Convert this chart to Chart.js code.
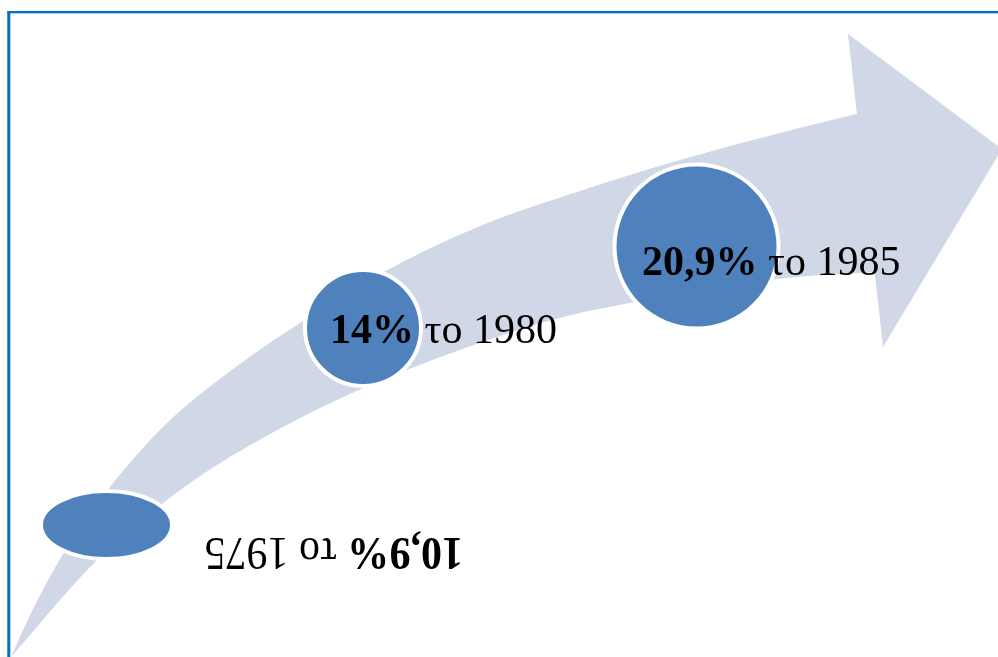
<!DOCTYPE html>
<html>
<head>
<meta charset="utf-8">
<script src="https://cdn.jsdelivr.net/npm/chart.js@4.4.1/dist/chart.umd.min.js"></script>
<style>
  html, body { margin: 0; padding: 0; background: #fff; }
  #wrap { width: 998px; height: 657px; }
</style>
</head>
<body>
<div id="wrap"><canvas id="growth" width="998" height="657"></canvas></div>
<script>
const years = [1975, 1980, 1985];
const shares = [10.9, 14, 20.9];

// marker placement along the arrow (canvas units, y grows downward)
const markerX = [106.5, 363, 696.5];
const markerY = [525, 328, 246.5];
const markerR = [65, 58, 82];
const labelX = [463, 330, 642];
const labelY = [538, 343, 275];
const labelTurn = [180, 0, 0];
const labelStretch = [1.12, 1, 1];

// curved arrow shaft: top and bottom edge, both left->right, then the head
const arrowUpper = [[11, 657], [33, 609], [63, 554], [110, 487], [167, 423], [233, 369], [303, 321],
  [380, 274], [480, 226], [580, 191], [680, 160], [780, 133], [857, 114], [895, 106]];
const arrowLower = [[11, 657], [97, 560], [163, 503], [217, 465], [283, 427], [350, 394], [417, 366],
  [500, 336], [567, 316], [630, 303], [777, 279], [876, 272], [895, 271]];
const arrowHead = [[848, 34], [1002, 149], [883, 347]];

const BAND = '#d0d8e8';
const DOT = '#4f81bd';
const FRAME = '#0070c0';
const FONT = '"Liberation Serif", "Times New Roman", serif';

const pts = (list) => list.map(([x, y]) => ({ x, y }));

function ellipseStyle(rx, ry, bw) {
  const c = document.createElement('canvas');
  c.width = Math.ceil(2 * (rx + bw));
  c.height = Math.ceil(2 * (ry + bw));
  const g = c.getContext('2d');
  g.beginPath();
  g.ellipse(c.width / 2, c.height / 2, rx, ry, 0, 0, Math.PI * 2);
  g.fillStyle = DOT;
  g.fill();
  g.lineWidth = bw;
  g.strokeStyle = '#fff';
  g.stroke();
  return c;
}
const firstDot = ellipseStyle(65.5, 34, 4);

const shareLabels = {
  id: 'shareLabels',
  afterDatasetsDraw(chart) {
    const { ctx, scales: { x, y } } = chart;
    ctx.save();
    ctx.textAlign = 'left';
    ctx.textBaseline = 'alphabetic';
    ctx.fillStyle = '#000';
    years.forEach((yr, i) => {
      const bold = String(shares[i]).replace('.', ',') + '%';
      const rest = ' το ' + yr;
      ctx.save();
      ctx.translate(x.getPixelForValue(labelX[i]), y.getPixelForValue(labelY[i]));
      ctx.rotate(labelTurn[i] * Math.PI / 180);
      ctx.scale(1, labelStretch[i]);
      ctx.font = 'bold 42px ' + FONT;
      ctx.fillText(bold, 0, 0);
      const w = ctx.measureText(bold).width;
      ctx.font = '42px ' + FONT;
      ctx.fillText(rest, w, 0);
      ctx.restore();
    });
    // frame on the left and top
    ctx.fillStyle = FRAME;
    ctx.fillRect(7.3, 11, 3, 646);
    ctx.fillRect(7.3, 11, 991, 2.3);
    ctx.restore();
  }
};

const edge = {
  type: 'line',
  backgroundColor: BAND,
  borderColor: 'rgba(0,0,0,0)',
  borderWidth: 0,
  pointRadius: 0,
  cubicInterpolationMode: 'monotone'
};

new Chart(document.getElementById('growth'), {
  type: 'scatter',
  data: {
    datasets: [
      {
        type: 'bubble',
        data: years.map((yr, i) => ({ x: markerX[i], y: markerY[i], r: markerR[i] })),
        backgroundColor: DOT,
        borderColor: '#fff',
        borderWidth: 4,
        pointStyle: (c) => (c.dataIndex === 0 ? firstDot : 'circle'),
        order: 0
      },
      { ...edge, data: pts(arrowUpper), fill: '+1', order: 1 },
      { ...edge, data: pts(arrowLower), fill: false, order: 2 },
      {
        type: 'line',
        data: pts(arrowHead),
        backgroundColor: BAND,
        borderColor: 'rgba(0,0,0,0)',
        borderWidth: 0,
        pointRadius: 0,
        tension: 0,
        fill: 'shape',
        order: 3
      }
    ]
  },
  options: {
    responsive: false,
    animation: false,
    events: [],
    layout: { padding: 0, autoPadding: false },
    scales: {
      x: { type: 'linear', min: 0, max: 998, display: false },
      y: { type: 'linear', min: 0, max: 657, reverse: true, display: false }
    },
    plugins: {
      legend: { display: false },
      tooltip: { enabled: false }
    }
  },
  plugins: [shareLabels]
});
</script>
</body>
</html>
